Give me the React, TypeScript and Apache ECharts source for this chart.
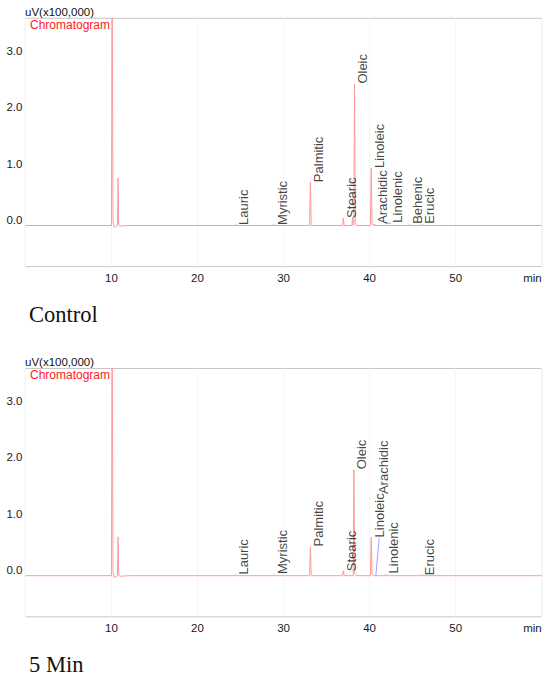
import React, { useEffect, useRef } from "react";
import * as echarts from "echarts";

// ---- Data ----
// Control chromatogram trace: [time (min), signal (x100,000 uV)]
const controlTrace: [number, number][] = [
  [0, -0.1], [10.0, -0.1], [10.08, 4.6], [10.18, -0.02], [10.3, -0.13], [10.5, -0.12],
  [10.7, -0.1], [10.77, 0.74], [10.84, -0.08], [11.0, -0.11], [12, -0.1], [19.5, -0.1],
  [24.37, -0.1], [24.42, -0.08], [24.47, -0.1], [28.86, -0.1], [28.91, -0.08], [28.96, -0.1],
  [33.02, -0.1], [33.12, 0.67], [33.22, -0.1], [36.84, -0.1], [36.94, 0.03], [37.04, -0.1],
  [37.95, -0.1], [38.02, 0.05], [38.1, -0.1], [38.16, -0.09], [38.25, 2.41], [38.34, -0.06],
  [38.5, -0.1], [40.09, -0.1], [40.19, 0.92], [40.28, -0.08], [40.52, -0.1], [40.57, -0.07],
  [40.62, -0.1], [42.26, -0.1], [42.31, -0.08], [42.36, -0.1], [44.58, -0.1], [44.63, -0.08],
  [44.68, -0.1], [46.02, -0.1], [46.07, -0.08], [46.12, -0.1], [60, -0.1],
];
const controlBlue: [number, number][] = [[41.9, -0.06], [42.5, -0.06]];
const controlPeakNames = ["Lauric", "Myristic", "Palmitic", "Stearic", "Oleic", "Linoleic", "Arachidic", "Linolenic", "Behenic", "Erucic"];
const controlPeakTimes = [24.42, 28.91, 33.12, 36.94, 38.25, 40.19, 40.57, 42.31, 44.63, 46.07];
const controlLabelLevels = [-0.09, -0.09, 0.67, 0.035, 2.42, 0.92, -0.07, -0.05, -0.07, -0.07];

// 5 Min chromatogram trace
const min5Trace: [number, number][] = [
  [0, -0.1], [10.0, -0.1], [10.08, 4.6], [10.18, -0.02], [10.3, -0.13], [10.5, -0.12],
  [10.7, -0.1], [10.77, 0.59], [10.84, -0.08], [11.0, -0.11], [12, -0.1], [19.5, -0.1],
  [24.37, -0.1], [24.42, -0.08], [24.47, -0.1], [28.86, -0.1], [28.91, -0.08], [28.96, -0.1],
  [33.02, -0.1], [33.12, 0.415], [33.22, -0.1], [36.84, -0.1], [36.94, -0.01], [37.04, -0.1],
  [38.09, -0.1], [38.18, 1.78], [38.27, -0.06], [38.45, -0.1], [40.09, -0.1], [40.19, 0.58],
  [40.28, -0.08], [40.5, -0.1], [41.8, -0.1], [41.85, -0.07], [41.9, -0.1], [46.02, -0.1],
  [46.07, -0.08], [46.12, -0.1], [60, -0.1],
];
const min5Blue: [number, number][] = [[40.73, -0.09], [41.12, 0.57]];
const min5PeakNames = ["Lauric", "Myristic", "Palmitic", "Stearic", "Oleic", "Linoleic", "Arachidic", "Linolenic", "Erucic"];
const min5PeakTimes = [24.42, 28.91, 33.12, 36.94, 38.18, 40.19, 40.69, 41.85, 46.07];
const min5LabelLevels = [-0.08, -0.07, 0.42, -0.02, 1.79, 0.58, 1.35, -0.06, -0.09];

const yTickValues = [0, 1, 2, 3];
const yUnitLabel = "uV(x100,000)";
const traceTitle = "Chromatogram";
const panelTitles = ["Control", "5 Min"];

const SANS = "'Liberation Sans', Arial, sans-serif";
const SERIF = "'Liberation Serif', 'Times New Roman', serif";

export default function App() {
  const ref = useRef<HTMLDivElement>(null);
  useEffect(() => {
    document.body.style.margin = "0";
    if (!ref.current) return;
    const chart = echarts.init(ref.current, undefined, { renderer: "svg" });
    const gridTops = [18.3, 368.5];
    const gridH = 248.3;
    const traces = [controlTrace, min5Trace];
    const blues = [controlBlue, min5Blue];
    const names = [controlPeakNames, min5PeakNames];
    const times = [controlPeakTimes, min5PeakTimes];
    const levels = [controlLabelLevels, min5LabelLevels];

    const grid = gridTops.map((t) => ({
      left: 25.4, top: t, width: 516.3, height: gridH, show: true,
      borderColor: "#c6c6c6", borderWidth: 1, backgroundColor: "transparent",
    }));
    const xAxis = gridTops.map((_, i) => ({
      type: "value", gridIndex: i, min: 0, max: 60, interval: 10,
      axisLine: { show: false }, axisTick: { show: false },
      splitLine: { show: true, lineStyle: { color: "#f6f6f6", width: 1 } },
      axisLabel: {
        showMinLabel: false, alignMaxLabel: "right", margin: 5,
        fontFamily: SANS, fontSize: 11.5, color: "#1a1a1a",
        formatter: (v: number) => (v === 60 ? "min" : String(v)),
      },
    }));
    const yAxis = gridTops.map((_, i) => ({
      type: "value", gridIndex: i, min: -0.83, max: 3.58,
      axisLine: { show: false }, axisTick: { show: false },
      splitLine: { show: false },
      axisLabel: {
        customValues: yTickValues, margin: 3,
        fontFamily: SANS, fontSize: 11.5, color: "#1a1a1a",
        formatter: (v: number) => v.toFixed(1),
      },
    }));
    const series: any[] = [];
    gridTops.forEach((_, i) => {
      series.push({
        type: "line", xAxisIndex: i, yAxisIndex: i, data: traces[i], symbol: "none",
        clip: true, lineStyle: { color: "#ff9a9a", width: 1 }, z: 3, silent: true,
      });
      series.push({
        type: "line", xAxisIndex: i, yAxisIndex: i, data: blues[i], symbol: "none",
        clip: true, lineStyle: { color: "#a0a0ff", width: 1 }, z: 3, silent: true,
      });
      series.push({
        type: "scatter", xAxisIndex: i, yAxisIndex: i, symbolSize: 1,
        itemStyle: { color: "rgba(0,0,0,0)" }, z: 4, silent: true,
        data: names[i].map((n, k) => ({ name: n, value: [times[i][k], levels[i][k]] })),
        label: {
          show: true, formatter: "{b}", position: "inside", rotate: 90,
          align: "left", verticalAlign: "top", padding: [1.5, 0, 0, 0], lineHeight: 13,
          fontFamily: SANS, fontSize: 13, color: "#111",
        },
      });
    });
    const graphic: any[] = [];
    gridTops.forEach((t, i) => {
      graphic.push({
        type: "text", left: 25, top: t - 12.3,
        style: { text: yUnitLabel, fontFamily: SANS, fontSize: 11.5, fill: "#111" },
      });
      graphic.push({
        type: "text", left: 30, top: t + 0.5,
        style: { text: traceTitle, fontFamily: SANS, fontSize: 12, fill: "#ff1a1a" },
      });
      graphic.push({
        type: "text", x: 29, y: t + 296, z: 10,
        style: { text: panelTitles[i], fontFamily: SERIF, fontSize: 22.5, fill: "#111", verticalAlign: "middle", align: "left" },
      });
    });
    chart.setOption({ animation: false, grid, xAxis, yAxis, series, graphic });
    return () => chart.dispose();
  }, []);
  return <div ref={ref} style={{ width: 550, height: 679 }} />;
}
